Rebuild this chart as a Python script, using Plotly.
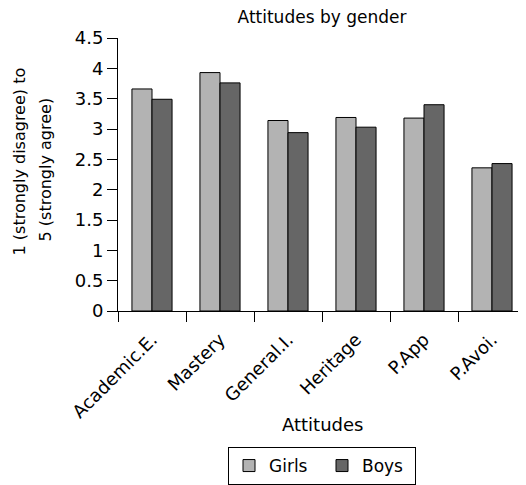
import plotly.graph_objects as go

categories = ["Academic.E.", "Mastery", "General.I.", "Heritage", "P.App", "P.Avoi."]
girls = [3.66, 3.93, 3.14, 3.19, 3.18, 2.36]
boys = [3.49, 3.76, 2.94, 3.03, 3.40, 2.43]
y_ticks = [0, 0.5, 1, 1.5, 2, 2.5, 3, 3.5, 4, 4.5]
y_tick_text = ["0", "0.5", "1", "1.5", "2", "2.5", "3", "3.5", "4", "4.5"]

FONT = "DejaVu Sans, Liberation Sans, Arial, sans-serif"

fig = go.Figure()
fig.add_trace(go.Bar(name="Girls", x=categories, y=girls,
                     marker=dict(color="#b3b3b3", line=dict(color="#000000", width=1))))
fig.add_trace(go.Bar(name="Boys", x=categories, y=boys,
                     marker=dict(color="#666666", line=dict(color="#000000", width=1))))

fig.update_layout(
    width=518, height=477,
    margin=dict(l=110, r=0, t=30, b=172, pad=0),
    paper_bgcolor="white", plot_bgcolor="white",
    font=dict(family=FONT, size=18, color="#000000"),
    barmode="group", bargap=0.41, bargroupgap=0,
    title=dict(text="Attitudes by gender", xref="paper", x=0.5, xanchor="center",
               yref="container", y=0.994, yanchor="top", font=dict(size=17)),
    showlegend=True,
    legend=dict(orientation="h", x=0.5, xanchor="center", y=-0.5, yanchor="top",
                bordercolor="#000000", borderwidth=1, font=dict(size=17),
                traceorder="normal", entrywidth=48),
    xaxis=dict(showline=True, linecolor="#000000", linewidth=1, ticks="outside",
               tickson="boundaries", ticklen=10, tickcolor="#000000", tickangle=-45,
               showgrid=False, tickfont=dict(size=18), automargin=False,
               ticklabelstandoff=10),
    yaxis=dict(range=[0, 4.5], showline=True, linecolor="#000000", linewidth=1,
               ticks="outside", ticklen=10, tickcolor="#000000", showgrid=False,
               tickvals=y_ticks, ticktext=y_tick_text, tickfont=dict(size=18),
               zeroline=False, automargin=False),
    annotations=[
        dict(text="Attitudes", xref="paper", yref="paper", x=0.5, y=-0.414,
             xanchor="center", yanchor="middle", showarrow=False, font=dict(size=18)),
        dict(text="1 (strongly disagree) to", xref="paper", yref="paper",
             x=-0.2696, y=0.546, xanchor="left", yanchor="middle", textangle=-90,
             showarrow=False, font=dict(size=16)),
        dict(text="5 (strongly agree)", xref="paper", yref="paper",
             x=-0.178, y=0.52, xanchor="center", yanchor="middle", textangle=-90,
             showarrow=False, font=dict(size=16)),
    ],
)

fig.write_html("out.html")
